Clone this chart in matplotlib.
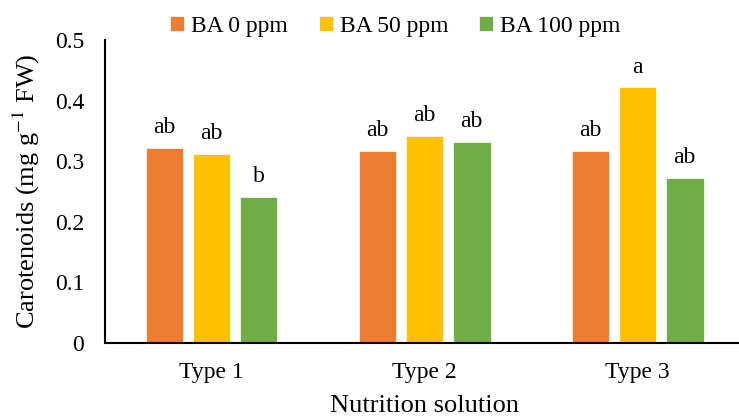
import numpy as np
import matplotlib
matplotlib.use('Agg')
import matplotlib.pyplot as plt

plt.rcParams['font.family'] = ['Liberation Serif', 'DejaVu Serif']
plt.rcParams['mathtext.fontset'] = 'stix'

# data
groups = ['Type 1', 'Type 2', 'Type 3']
series = ['BA 0 ppm', 'BA 50 ppm', 'BA 100 ppm']
ba0 = [0.322, 0.317, 0.317]
ba50 = [0.312, 0.342, 0.422]
ba100 = [0.241, 0.332, 0.272]
letters_ba0 = ['ab', 'ab', 'ab']
letters_ba50 = ['ab', 'ab', 'a']
letters_ba100 = ['b', 'ab', 'ab']

colors = ['#ED7D31', '#FFC000', '#70AD47']

fig = plt.figure(figsize=(7.39, 4.19), dpi=100)
ax = fig.add_axes([0.142, 0.1814, 0.865, 0.7231])

x = np.arange(len(groups))
width = 0.177
step = 0.221

values = [ba0, ba50, ba100]
letters = [letters_ba0, letters_ba50, letters_ba100]
for i, (vals, lab, col) in enumerate(zip(values, series, colors)):
    pos = x + (i - 1) * step
    bars = ax.bar(pos, vals, width=width, color=col, label=lab,
                  edgecolor='white', linewidth=0.5)
    for b, t in zip(bars, letters[i]):
        ax.annotate(t, (b.get_x() + b.get_width() / 2, b.get_height()),
                    xytext=(0, 7), textcoords='offset points',
                    ha='center', va='bottom', fontsize=17)

ax.set_xlim(-0.5, 2.5)
ax.set_ylim(0, 0.5)
ax.set_yticks([0, 0.1, 0.2, 0.3, 0.4, 0.5])
ax.set_yticklabels(['0', '0.1', '0.2', '0.3', '0.4', '0.5'])
ax.set_xticks(x)
ax.set_xticklabels(groups)
ax.tick_params(axis='both', length=0, labelsize=17)
ax.tick_params(axis='x', pad=14)
ax.tick_params(axis='y', pad=15)

for s in ['top', 'right']:
    ax.spines[s].set_visible(False)
for s in ['left', 'bottom']:
    ax.spines[s].set_linewidth(1.5)
    ax.spines[s].set_color('black')

ax.set_xlabel('Nutrition solution', fontsize=19, labelpad=8)
ax.set_ylabel(r'Carotenoids (mg g$^{-1}$ FW)', fontsize=19, labelpad=9)

fig.legend(loc='center', bbox_to_anchor=(0.535, 0.937), ncol=3, frameon=False,
           fontsize=17, handlelength=0.6, handleheight=0.6, handletextpad=0.3,
           columnspacing=1.3)

fig.savefig('out.png', dpi=100)
